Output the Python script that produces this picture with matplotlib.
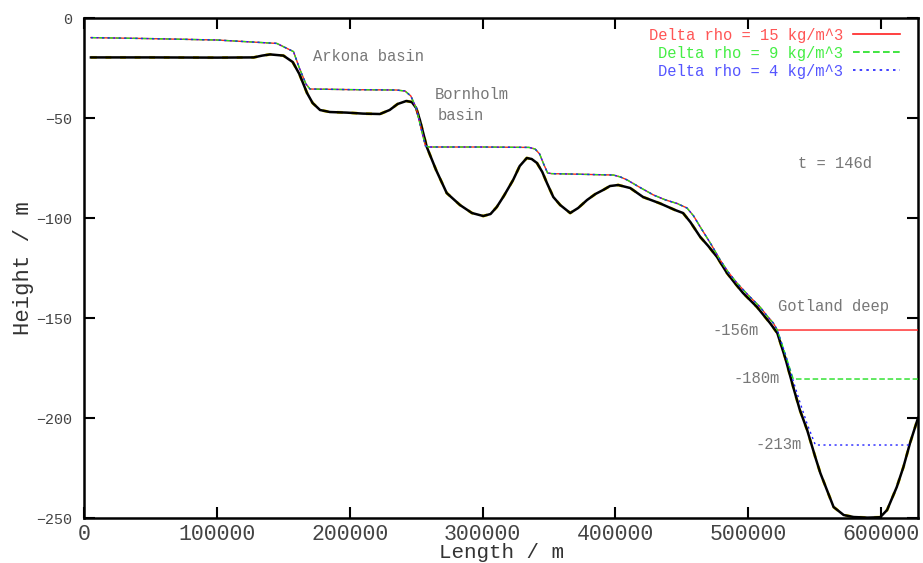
import matplotlib.pyplot as plt
from matplotlib.lines import Line2D

plt.rcParams['font.family'] = ['Liberation Mono', 'DejaVu Sans Mono']

# sea floor profile along the transect (m, m)
bottom_x = [5000, 50000, 100000, 127600, 134000, 140000, 150000, 157000, 162000,
            167800, 172000, 177600, 185000, 197700, 210000, 222700, 230000, 236000,
            242500, 246700, 250000, 252800, 258000, 265000, 273000, 283000, 292000,
            300500, 306000, 310700, 316000, 323000, 328000, 333300, 337000, 341000,
            345000, 348500, 353300, 358500, 366000, 372000, 378700, 385000, 390800,
            396000, 402200, 411200, 420900, 433700, 445000, 451000, 456500, 464000,
            470000, 476600, 484100, 490000, 496200, 506700, 516500, 522000, 528000,
            534000, 539000, 544500, 550600, 554400, 559400, 564400, 572000, 579500,
            590000, 599500, 604700, 612000, 617000, 622000, 628000]
bottom_y = [-19.7, -19.7, -19.8, -19.7, -18.8, -18.2, -18.8, -22, -28,
            -37.5, -42.5, -46, -47, -47.3, -47.8, -48, -46, -43,
            -41.5, -42, -45, -51, -64.5, -76, -87.5, -93.5, -97.5,
            -99, -98, -94.5, -89, -81, -74, -70, -70.5, -72.5,
            -77, -82.5, -89.5, -93.5, -97.5, -95, -91, -88, -86,
            -84, -83.5, -85, -89.5, -92.7, -96, -97.5, -102, -109.5,
            -114, -119.5, -127.5, -132.5, -137.5, -144.5, -152.5, -157.5, -170,
            -184.5, -196, -206, -219.5, -227.5, -236, -244.5, -248.5, -249.5,
            -249.8, -249.6, -246, -234.5, -224.5, -212.5, -200]

# interface height, common part of the three runs
iface_x = [5000, 50000, 100000, 145000, 157600, 162000, 167000, 170000, 200000,
           235000, 241600, 246000, 250000, 254000, 257000, 260000, 300000, 335000,
           339600, 343000, 346000, 349000, 352000, 398500, 404000, 409000, 418000,
           428800, 438000, 446400, 454000, 459000, 464000, 472000, 479000, 485000,
           491600, 500000, 509000, 515000, 519000, 522000]
iface_y = [-9.8, -10.3, -11, -12.7, -16.8, -25, -33, -35.5, -35.8,
           -36, -36.5, -39, -45, -56, -64, -64.5, -64.5, -64.7,
           -65.5, -68, -73, -77.5, -77.8, -78.5, -79.5, -81, -84.5,
           -88.5, -91, -92.7, -95, -99, -104.5, -113, -121, -127,
           -132.5, -138.5, -144.5, -149.5, -152.5, -156]

# tails where the runs separate and level off in the deep
red_tail_x = [628000]
red_tail_y = [-156]
green_tail_x = [528000, 534000, 628000]
green_tail_y = [-168, -180.5, -180.5]
blue_tail_x = [528000, 534000, 539000, 544500, 550700, 622600]
blue_tail_y = [-168, -181.5, -192, -203, -213.5, -213.5]

levels = [-156, -180, -213]
labels = ['Delta rho = 15 kg/m^3', 'Delta rho = 9 kg/m^3', 'Delta rho = 4 kg/m^3']

fig = plt.figure(figsize=(9.23, 5.63), dpi=100)
ax = fig.add_axes([0.0913, 0.0799, 0.9033, 0.8881])

ax.plot(bottom_x, bottom_y, color='#e8d800', lw=2.1, dashes=(2, 3), zorder=2)
ax.plot(bottom_x, bottom_y, color='black', lw=1.8, zorder=3)
ax.plot(iface_x + red_tail_x, iface_y + red_tail_y, color='#ff2020', lw=1.0, zorder=4)
ax.plot(iface_x + green_tail_x, iface_y + green_tail_y, color='#20e020', lw=1.0,
        dashes=(4, 2), zorder=5)
ax.plot(iface_x + blue_tail_x, iface_y + blue_tail_y, color='#2020ff', lw=1.0,
        dashes=(1.5, 2.5), zorder=6)

grey = '#777777'
ax.text(172300, -19, 'Arkona basin', fontsize=11.2, color=grey, va='center')
ax.text(264200, -38, 'Bornholm', fontsize=11.2, color=grey, va='center')
ax.text(266500, -48.5, 'basin', fontsize=11.2, color=grey, va='center')
ax.text(537800, -72.5, 't = 146d', fontsize=11.2, color=grey, va='center')
ax.text(522800, -144, 'Gotland deep', fontsize=11.2, color=grey, va='center')
for lev, xr in zip(levels, [508400, 524200, 540800]):
    ax.text(xr, lev, '%dm' % lev, fontsize=11.2, color=grey, va='center', ha='right')

handles = [Line2D([], [], color='#ff2020', lw=1.2),
           Line2D([], [], color='#20e020', lw=1.2, dashes=(4, 2)),
           Line2D([], [], color='#2020ff', lw=1.2, dashes=(1.5, 2.5))]
leg = ax.legend(handles, labels, loc='upper right', frameon=False, markerfirst=False,
                fontsize=11.2, handlelength=3.0, handletextpad=0.65, labelspacing=0.2,
                borderpad=0, borderaxespad=0, bbox_to_anchor=(0.978, 0.981))
for txt, c in zip(leg.get_texts(), ['#ff5555', '#44ee44', '#5555ff']):
    txt.set_color(c)

ax.set_xlim(0, 628000)
ax.set_ylim(-250, 0)
ax.set_xticks([0, 100000, 200000, 300000, 400000, 500000, 600000])
ax.set_yticks([0, -50, -100, -150, -200, -250])
ax.tick_params(axis='both', direction='in', top=True, right=True, length=8, width=1.5,
               colors='black')
ax.tick_params(axis='x', labelsize=15.5, labelcolor='#444444', pad=4)
ax.tick_params(axis='y', labelsize=10.8, labelcolor='#444444', pad=9)
for s in ax.spines.values():
    s.set_linewidth(1.8)

ax.set_xlabel('Length / m', fontsize=15, color='#333333', labelpad=-1)
ax.set_ylabel('Height / m', fontsize=16, color='#333333', labelpad=1)

fig.savefig('out.png', dpi=100)
